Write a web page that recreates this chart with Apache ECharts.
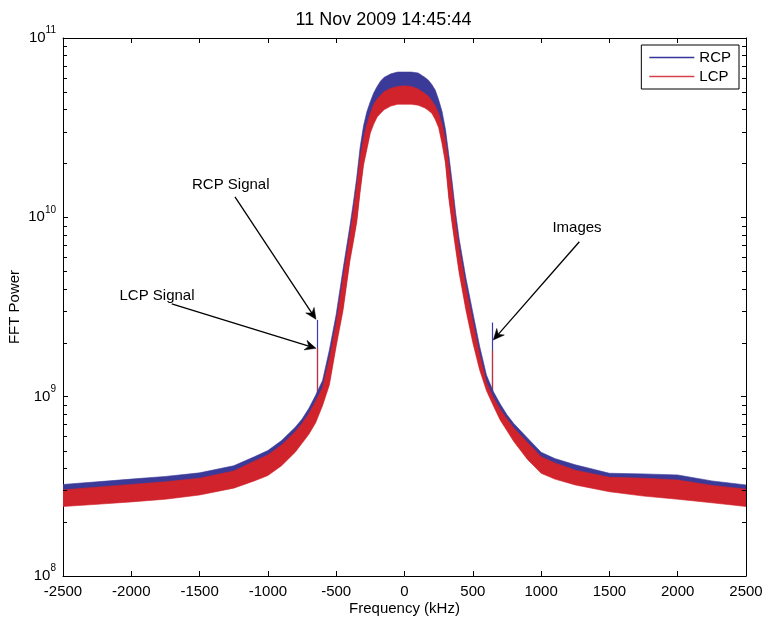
<!DOCTYPE html>
<html><head><meta charset="utf-8">
<script src="https://cdn.jsdelivr.net/npm/echarts@6/dist/echarts.min.js"></script>
<style>html,body{margin:0;padding:0;background:#fff}#c{width:767px;height:620px}</style>
</head><body><div id="c"></div>
<script>
// ---- data ----
const titleText = '11 Nov 2009 14:45:44';
const freq = [-2500,-2250,-2000,-1750,-1500,-1250,-1100,-1000,-900,-800,-750,-700,-650,-600,-550,-500,-450,-400,-375,-350,-325,-300,-275,-250,-225,-200,-175,-150,-100,-50,0,50,100,150,175,200,225,250,275,300,325,350,375,400,450,500,550,600,650,700,750,800,900,1000,1100,1250,1500,1750,2000,2250,2500];
// RCP noise band: upper and lower envelopes
const rcpUpper = [3.24e8,3.35e8,3.47e8,3.59e8,3.76e8,4.12e8,4.62e8,5.01e8,5.69e8,6.76e8,7.50e8,8.61e8,1.02e9,1.23e9,1.82e9,2.88e9,5.13e9,8.91e9,1.20e10,1.66e10,2.45e10,3.24e10,3.89e10,4.42e10,4.95e10,5.37e10,5.75e10,6.03e10,6.31e10,6.46e10,6.46e10,6.46e10,6.38e10,6.03e10,5.82e10,5.50e10,5.13e10,4.52e10,3.89e10,3.09e10,2.21e10,1.55e10,1.05e10,7.59e9,4.57e9,2.95e9,1.91e9,1.32e9,1.07e9,9.12e8,7.94e8,7.08e8,5.89e8,4.90e8,4.52e8,4.17e8,3.74e8,3.71e8,3.66e8,3.39e8,3.22e8];
const rcpLower = [2.56e8,2.64e8,2.72e8,2.81e8,2.97e8,3.24e8,3.56e8,3.81e8,4.33e8,5.15e8,5.78e8,6.48e8,7.52e8,9.36e8,1.22e9,2.01e9,3.17e9,5.97e9,7.60e9,9.80e9,1.45e10,2.05e10,2.52e10,3.10e10,3.48e10,3.81e10,3.99e10,4.18e10,4.38e10,4.48e10,4.48e10,4.48e10,4.43e10,4.27e10,4.14e10,3.99e10,3.69e10,3.32e10,2.70e10,2.10e10,1.32e10,9.47e9,6.94e9,5.15e9,3.17e9,2.10e9,1.48e9,1.13e9,9.36e8,7.78e8,6.78e8,5.90e8,4.69e8,3.93e8,3.64e8,3.38e8,3.10e8,2.93e8,2.81e8,2.69e8,2.56e8];
// LCP noise band: upper and lower envelopes
const lcpUpper = [3.02e8,3.13e8,3.24e8,3.35e8,3.51e8,3.85e8,4.37e8,4.73e8,5.37e8,6.38e8,7.08e8,8.04e8,9.44e8,1.12e9,1.62e9,2.57e9,4.57e9,7.94e9,1.07e10,1.48e10,2.14e10,2.75e10,3.31e10,3.80e10,4.27e10,4.57e10,4.79e10,5.01e10,5.25e10,5.37e10,5.41e10,5.37e10,5.19e10,4.90e10,4.73e10,4.47e10,4.17e10,3.80e10,3.31e10,2.69e10,1.95e10,1.38e10,9.33e9,6.76e9,4.07e9,2.63e9,1.72e9,1.20e9,9.89e8,8.51e8,7.50e8,6.68e8,5.56e8,4.62e8,4.27e8,3.89e8,3.55e8,3.51e8,3.43e8,3.20e8,3.05e8];
const lcpLower = [2.44e8,2.51e8,2.59e8,2.68e8,2.83e8,3.09e8,3.39e8,3.63e8,4.12e8,4.90e8,5.50e8,6.17e8,7.16e8,8.91e8,1.16e9,1.91e9,3.02e9,5.69e9,7.24e9,9.33e9,1.38e10,1.95e10,2.40e10,2.95e10,3.31e10,3.63e10,3.80e10,3.98e10,4.17e10,4.27e10,4.27e10,4.27e10,4.22e10,4.07e10,3.94e10,3.80e10,3.51e10,3.16e10,2.57e10,2.00e10,1.26e10,9.02e9,6.61e9,4.90e9,3.02e9,2.00e9,1.41e9,1.08e9,8.91e8,7.41e8,6.46e8,5.62e8,4.47e8,3.74e8,3.47e8,3.22e8,2.95e8,2.79e8,2.68e8,2.56e8,2.44e8];
// narrow spikes (signal and image)
const spikeFreq = [-643, 641];
const spikeBase = [9.5e8, 9.5e8];
const rcpSpikeTop = [2.68e9, 2.59e9];
const lcpSpikeTop = [1.86e9, 1.81e9];
// annotations
const annoText = ['RCP Signal', 'LCP Signal', 'Images'];
const annoTextAt = [[-1272, 1.52e10], [-1812, 3.65e9], [1263, 8.73e9]];
const arrowFrom = [[-1241, 1.30e10], [-1704, 3.29e9], [1280, 7.31e9]];
const arrowTo = [[-648, 2.70e9], [-648, 1.86e9], [650, 2.07e9]];
// axes
const xMin = -2500, xMax = 2500, xStep = 500;
const yMin = 1e8, yMax = 1e11;
const yMinorTicks = [2e8,3e8,4e8,5e8,6e8,7e8,8e8,9e8,2e9,3e9,4e9,5e9,6e9,7e9,8e9,9e9,2e10,3e10,4e10,5e10,6e10,7e10,8e10,9e10];

const FONT = '"Liberation Sans", Arial, Helvetica, sans-serif';
const BLUE = '#3b3a98';
const RED = '#d0232b';

function band(name, up, lo, color) {
  return {
    type: 'custom', name: name, silent: true, clip: true, z: 3,
    data: freq.map((f, i) => [f, up[i], lo[i]]),
    encode: { x: 0, y: [1, 2] },
    renderItem: function (params, api) {
      if (params.dataIndex !== 0) return null;
      const n = freq.length;
      const top = [], bot = [];
      for (let i = 0; i < n; i++) top.push(api.coord([freq[i], up[i]]));
      for (let i = n - 1; i >= 0; i--) bot.push(api.coord([freq[i], lo[i]]));
      return { type: 'polygon', shape: { points: top.concat(bot) },
        style: { fill: color, stroke: color, lineWidth: 0.6 } };
    }
  };
}

function spikes(name, top, color) {
  return {
    type: 'custom', name: name, silent: true, clip: true, z: 2,
    data: spikeFreq.map((f, i) => [f, spikeBase[i], top[i]]),
    encode: { x: 0, y: [1, 2] },
    renderItem: function (params, api) {
      const a = api.coord([api.value(0), api.value(1)]);
      const b = api.coord([api.value(0), api.value(2)]);
      const x = Math.round(a[0]) + 0.5;
      return { type: 'line', shape: { x1: x, y1: a[1], x2: x, y2: b[1] },
        style: { stroke: color, lineWidth: 1.2 } };
    }
  };
}

const chart = echarts.init(document.getElementById('c'), null, { renderer: 'canvas' });
chart.setOption({
  backgroundColor: '#fff',
  animation: false,
  title: { text: titleText, left: 'center', top: 6,
    textStyle: { fontFamily: FONT, fontSize: 18, fontWeight: 'normal', color: '#000' } },
  legend: {
    right: 28, top: 45, orient: 'vertical', itemGap: 4,
    padding: [5, 8, 5, 8],
    backgroundColor: '#fff', borderColor: '#000', borderWidth: 1,
    itemWidth: 45, itemHeight: 1.5,
    textStyle: { fontFamily: FONT, fontSize: 15, color: '#000' },
    data: [
      { name: 'RCP', icon: 'rect', itemStyle: { color: '#34349a' } },
      { name: 'LCP', icon: 'rect', itemStyle: { color: '#d6404a' } }
    ]
  },
  grid: { left: 63, right: 21, top: 38, bottom: 44, containLabel: false, outerBoundsMode: 'none' },
  xAxis: [
    { type: 'value', min: xMin, max: xMax, interval: xStep, position: 'bottom',
      name: 'Frequency (kHz)', nameLocation: 'middle', nameGap: 25, nameMoveOverlap: false,
      nameTextStyle: { fontFamily: FONT, fontSize: 15, color: '#000' },
      axisLine: { show: true, onZero: false, lineStyle: { color: '#000', width: 1 } },
      axisTick: { show: true, inside: true, length: 5, lineStyle: { color: '#000' } },
      axisLabel: { fontFamily: FONT, fontSize: 15, color: '#000', margin: 8,
        showMinLabel: true, showMaxLabel: true, hideOverlap: false,
        formatter: v => String(v) },
      splitLine: { show: false } },
    { type: 'value', min: xMin, max: xMax, interval: xStep, position: 'top',
      axisLine: { show: true, onZero: false, lineStyle: { color: '#000', width: 1 } },
      axisTick: { show: true, inside: true, length: 5, lineStyle: { color: '#000' } },
      axisLabel: { show: false }, splitLine: { show: false } }
  ],
  yAxis: [
    { type: 'log', logBase: 10, min: yMin, max: yMax, splitNumber: 3, position: 'left',
      name: 'FFT Power', nameLocation: 'middle', nameGap: 41, nameMoveOverlap: false,
      nameTextStyle: { fontFamily: FONT, fontSize: 15, color: '#000' },
      axisLine: { show: true, onZero: false, lineStyle: { color: '#000', width: 1 } },
      axisTick: { show: true, inside: true, length: 5, lineStyle: { color: '#000' } },
      axisLabel: { margin: 7, showMinLabel: true, showMaxLabel: true,
        formatter: v => '{b|10}{s|' + Math.round(Math.log10(v)) + '}',
        rich: {
          b: { fontFamily: FONT, fontSize: 15, color: '#000', verticalAlign: 'middle', lineHeight: 25 },
          s: { fontFamily: FONT, fontSize: 10, color: '#000', verticalAlign: 'top', lineHeight: 11 }
        } },
      splitLine: { show: false } },
    { type: 'log', logBase: 10, min: yMin, max: yMax, splitNumber: 3, position: 'right',
      axisLine: { show: true, onZero: false, lineStyle: { color: '#000', width: 1 } },
      axisTick: { show: true, inside: true, length: 5, lineStyle: { color: '#000' } },
      axisLabel: { show: false }, splitLine: { show: false } }
  ],
  series: [
    spikes('RCP', rcpSpikeTop, '#3b3ab0'),
    spikes('LCP', lcpSpikeTop, '#c8303a'),
    band('RCP', rcpUpper, rcpLower, BLUE),
    band('LCP', lcpUpper, lcpLower, RED),
    { // minor log ticks on left and right frames
      type: 'custom', name: 'minorTicks', silent: true, clip: false, z: 5,
      data: yMinorTicks.map(v => [xMin, v]),
      encode: { x: 0, y: 1 },
      renderItem: function (params, api) {
        const v = api.value(1);
        const l = api.coord([xMin, v]);
        const r = api.coord([xMax, v]);
        const y = Math.round(l[1]) + 0.5;
        return { type: 'group', children: [
          { type: 'line', shape: { x1: l[0], y1: y, x2: l[0] + 4, y2: y }, style: { stroke: '#000', lineWidth: 1 } },
          { type: 'line', shape: { x1: r[0], y1: y, x2: r[0] - 4, y2: y }, style: { stroke: '#000', lineWidth: 1 } }
        ] };
      }
    },
    { // annotations: text + arrows
      type: 'custom', name: 'annotations', silent: true, clip: false, z: 6,
      data: annoText.map((t, i) => [arrowFrom[i][0], arrowFrom[i][1]]),
      encode: { x: 0, y: 1 },
      renderItem: function (params, api) {
        const i = params.dataIndex;
        const a = api.coord(arrowFrom[i]);
        const b = api.coord(arrowTo[i]);
        const t = api.coord(annoTextAt[i]);
        const dx = b[0] - a[0], dy = b[1] - a[1];
        const len = Math.sqrt(dx * dx + dy * dy);
        const ux = dx / len, uy = dy / len, px = -uy, py = ux;
        const L = 11, W = 5, N = 7.5;
        const bx = b[0] - ux * L, by = b[1] - uy * L;
        const nx = b[0] - ux * N, ny = b[1] - uy * N;
        return { type: 'group', children: [
          { type: 'line', shape: { x1: a[0], y1: a[1], x2: nx, y2: ny }, style: { stroke: '#000', lineWidth: 1.3 } },
          { type: 'polygon', shape: { points: [[b[0], b[1]], [bx + px * W, by + py * W], [nx, ny], [bx - px * W, by - py * W]] },
            style: { fill: '#000', stroke: '#000', lineWidth: 0.5 } },
          { type: 'text', x: t[0], y: t[1], style: { text: annoText[i], fill: '#000',
            font: '15px ' + FONT, align: 'center', verticalAlign: 'middle' } }
        ] };
      }
    }
  ]
});
</script>
</body></html>
